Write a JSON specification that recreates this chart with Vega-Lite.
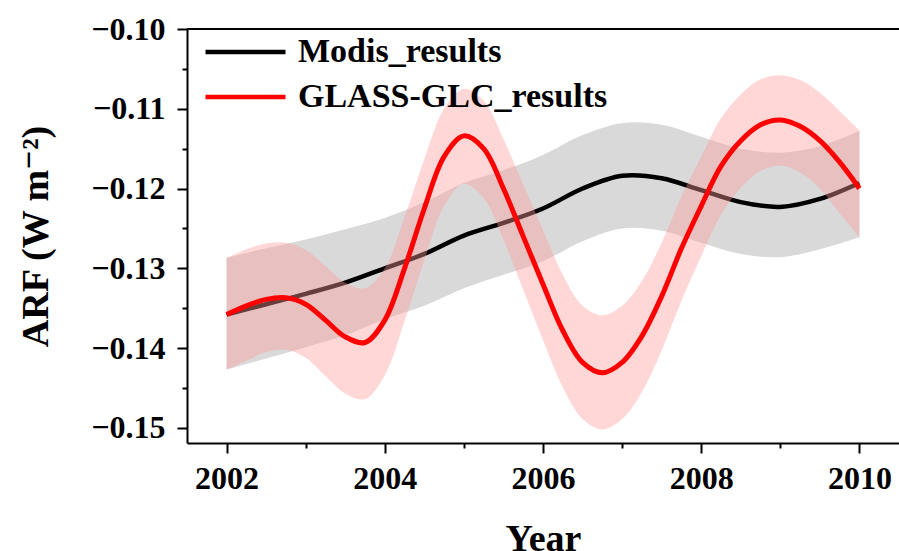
{
  "$schema": "https://vega.github.io/schema/vega-lite/v6.json",
  "autosize": "none",
  "width": 712,
  "height": 414,
  "padding": {"left": 187, "top": 29, "right": 0, "bottom": 108},
  "background": "white",
  "config": {
    "view": {"stroke": null},
    "axis": {
      "domainColor": "black", "domainWidth": 2,
      "tickColor": "black", "tickWidth": 2,
      "labelFont": "Liberation Serif, Times New Roman, DejaVu Serif, serif", "labelFontWeight": "bold", "labelFontSize": 32, "labelColor": "black",
      "titleFont": "Liberation Serif, Times New Roman, DejaVu Serif, serif", "titleFontWeight": "bold", "titleFontSize": 38, "titleColor": "black",
      "grid": false, "labelOverlap": false, "labelFlush": false
    },
    "legend": {
      "labelFont": "Liberation Serif, Times New Roman, DejaVu Serif, serif", "labelFontWeight": "bold", "labelFontSize": 34, "labelColor": "black", "labelLimit": 0
    }
  },
  "datasets": {
    "curves": [
      {"series": "Modis_results", "year": 2002.0, "value": -0.1358, "upper": -0.1287, "lower": -0.1427},
      {"series": "Modis_results", "year": 2002.5, "value": -0.1345, "upper": -0.1275, "lower": -0.1413},
      {"series": "Modis_results", "year": 2003.0, "value": -0.1332, "upper": -0.1264, "lower": -0.1399},
      {"series": "Modis_results", "year": 2003.5, "value": -0.1318, "upper": -0.1251, "lower": -0.1384},
      {"series": "Modis_results", "year": 2004.0, "value": -0.1300, "upper": -0.1237, "lower": -0.1364},
      {"series": "Modis_results", "year": 2004.5, "value": -0.1282, "upper": -0.1217, "lower": -0.1347},
      {"series": "Modis_results", "year": 2005.0, "value": -0.1259, "upper": -0.1193, "lower": -0.1325},
      {"series": "Modis_results", "year": 2005.5, "value": -0.1243, "upper": -0.1177, "lower": -0.1308},
      {"series": "Modis_results", "year": 2006.0, "value": -0.1225, "upper": -0.1158, "lower": -0.1291},
      {"series": "Modis_results", "year": 2006.5, "value": -0.1200, "upper": -0.1133, "lower": -0.1266},
      {"series": "Modis_results", "year": 2007.0, "value": -0.1184, "upper": -0.1118, "lower": -0.1250},
      {"series": "Modis_results", "year": 2007.5, "value": -0.1187, "upper": -0.1120, "lower": -0.1253},
      {"series": "Modis_results", "year": 2008.0, "value": -0.1202, "upper": -0.1135, "lower": -0.1268},
      {"series": "Modis_results", "year": 2008.5, "value": -0.1217, "upper": -0.1150, "lower": -0.1282},
      {"series": "Modis_results", "year": 2009.0, "value": -0.1223, "upper": -0.1155, "lower": -0.1286},
      {"series": "Modis_results", "year": 2009.5, "value": -0.1213, "upper": -0.1147, "lower": -0.1276},
      {"series": "Modis_results", "year": 2010.0, "value": -0.1193, "upper": -0.1128, "lower": -0.1261},
      {"series": "GLASS-GLC_results", "year": 2002.0, "value": -0.1358, "upper": -0.1287, "lower": -0.1427},
      {"series": "GLASS-GLC_results", "year": 2002.25, "value": -0.1347, "upper": -0.1276, "lower": -0.1416},
      {"series": "GLASS-GLC_results", "year": 2002.5, "value": -0.1339, "upper": -0.1269, "lower": -0.1405},
      {"series": "GLASS-GLC_results", "year": 2002.75, "value": -0.1337, "upper": -0.1268, "lower": -0.1402},
      {"series": "GLASS-GLC_results", "year": 2003.0, "value": -0.1345, "upper": -0.1277, "lower": -0.1412},
      {"series": "GLASS-GLC_results", "year": 2003.25, "value": -0.1365, "upper": -0.1297, "lower": -0.1435},
      {"series": "GLASS-GLC_results", "year": 2003.5, "value": -0.1386, "upper": -0.1318, "lower": -0.1457},
      {"series": "GLASS-GLC_results", "year": 2003.75, "value": -0.1393, "upper": -0.1325, "lower": -0.1464},
      {"series": "GLASS-GLC_results", "year": 2004.0, "value": -0.1365, "upper": -0.1300, "lower": -0.1434},
      {"series": "GLASS-GLC_results", "year": 2004.25, "value": -0.1300, "upper": -0.1236, "lower": -0.1366},
      {"series": "GLASS-GLC_results", "year": 2004.5, "value": -0.1225, "upper": -0.1163, "lower": -0.1290},
      {"series": "GLASS-GLC_results", "year": 2004.75, "value": -0.1160, "upper": -0.1100, "lower": -0.1222},
      {"series": "GLASS-GLC_results", "year": 2005.0, "value": -0.1134, "upper": -0.1075, "lower": -0.1194},
      {"series": "GLASS-GLC_results", "year": 2005.25, "value": -0.1150, "upper": -0.1090, "lower": -0.1212},
      {"series": "GLASS-GLC_results", "year": 2005.5, "value": -0.1200, "upper": -0.1138, "lower": -0.1264},
      {"series": "GLASS-GLC_results", "year": 2005.75, "value": -0.1260, "upper": -0.1195, "lower": -0.1327},
      {"series": "GLASS-GLC_results", "year": 2006.0, "value": -0.1320, "upper": -0.1252, "lower": -0.1390},
      {"series": "GLASS-GLC_results", "year": 2006.25, "value": -0.1378, "upper": -0.1308, "lower": -0.1449},
      {"series": "GLASS-GLC_results", "year": 2006.5, "value": -0.1418, "upper": -0.1347, "lower": -0.1489},
      {"series": "GLASS-GLC_results", "year": 2006.75, "value": -0.1431, "upper": -0.1359, "lower": -0.1502},
      {"series": "GLASS-GLC_results", "year": 2007.0, "value": -0.1418, "upper": -0.1347, "lower": -0.1489},
      {"series": "GLASS-GLC_results", "year": 2007.25, "value": -0.1385, "upper": -0.1316, "lower": -0.1455},
      {"series": "GLASS-GLC_results", "year": 2007.5, "value": -0.1335, "upper": -0.1268, "lower": -0.1403},
      {"series": "GLASS-GLC_results", "year": 2007.75, "value": -0.1275, "upper": -0.1210, "lower": -0.1341},
      {"series": "GLASS-GLC_results", "year": 2008.0, "value": -0.1222, "upper": -0.1160, "lower": -0.1285},
      {"series": "GLASS-GLC_results", "year": 2008.25, "value": -0.1172, "upper": -0.1112, "lower": -0.1233},
      {"series": "GLASS-GLC_results", "year": 2008.5, "value": -0.1140, "upper": -0.1082, "lower": -0.1199},
      {"series": "GLASS-GLC_results", "year": 2008.75, "value": -0.1120, "upper": -0.1063, "lower": -0.1178},
      {"series": "GLASS-GLC_results", "year": 2009.0, "value": -0.1114, "upper": -0.1058, "lower": -0.1171},
      {"series": "GLASS-GLC_results", "year": 2009.25, "value": -0.1122, "upper": -0.1064, "lower": -0.1180},
      {"series": "GLASS-GLC_results", "year": 2009.5, "value": -0.1140, "upper": -0.1080, "lower": -0.1200},
      {"series": "GLASS-GLC_results", "year": 2009.75, "value": -0.1167, "upper": -0.1103, "lower": -0.1231},
      {"series": "GLASS-GLC_results", "year": 2010.0, "value": -0.1200, "upper": -0.1127, "lower": -0.1261}
    ],
    "topline": [{"y": -0.10}]
  },
  "layer": [
    {
      "data": {"name": "curves"},
      "transform": [{"filter": "datum.series == 'Modis_results'"}],
      "mark": {"type": "area", "interpolate": "catmull-rom", "color": "#d9d9d9", "opacity": 1},
      "encoding": {
        "x": {
          "field": "year", "type": "quantitative",
          "scale": {"domain": [2001.5, 2010.5], "nice": false, "zero": false},
          "axis": {
            "values": [2002, 2003, 2004, 2005, 2006, 2007, 2008, 2009, 2010],
            "labelExpr": "datum.value % 2 == 0 ? '' + datum.value : ''",
            "tickSize": {"condition": {"test": "datum.value % 2 == 0", "value": 10}, "value": 5},
            "labelPadding": 10,
            "title": "Year",
            "titleY": 107,
            "titleBaseline": "alphabetic"
          }
        },
        "y": {
          "field": "lower", "type": "quantitative",
          "scale": {"domain": [-0.1519, -0.1], "nice": false, "zero": false},
          "axis": {
            "values": [-0.15, -0.145, -0.14, -0.135, -0.13, -0.125, -0.12, -0.115, -0.11, -0.105, -0.1],
            "labelExpr": "abs(round(datum.value * 1000)) % 10 == 0 ? format(datum.value, '.2f') : ''",
            "tickSize": {"condition": {"test": "abs(round(datum.value * 1000)) % 10 == 0", "value": 10}, "value": 5},
            "labelPadding": 12,
            "title": "ARF (W m⁻²)",
            "titleX": -140,
            "titleY": 207,
            "titleAngle": 270,
            "titleAlign": "center",
            "titleBaseline": "alphabetic"
          }
        },
        "y2": {"field": "upper"}
      }
    },
    {
      "data": {"name": "curves"},
      "transform": [{"filter": "datum.series == 'Modis_results'"}],
      "mark": {"type": "line", "interpolate": "catmull-rom", "strokeWidth": 4.5},
      "encoding": {
        "x": {"field": "year", "type": "quantitative"},
        "y": {"field": "value", "type": "quantitative"},
        "color": {
          "field": "series", "type": "nominal",
          "scale": {"domain": ["Modis_results", "GLASS-GLC_results"], "range": ["#000000", "#ff0000"]},
          "sort": ["Modis_results", "GLASS-GLC_results"],
          "legend": {
            "orient": "none", "legendX": 16, "legendY": 3, "padding": 0,
            "title": null, "symbolType": "stroke", "symbolSize": 6400, "symbolStrokeWidth": 4.5,
            "clipHeight": 40, "rowPadding": 5, "labelOffset": 10, "labelLimit": 0
          }
        }
      }
    },
    {
      "data": {"name": "curves"},
      "transform": [{"filter": "datum.series == 'GLASS-GLC_results'"}],
      "mark": {"type": "area", "interpolate": "catmull-rom", "color": "#ff9a9a", "opacity": 0.4},
      "encoding": {
        "x": {"field": "year", "type": "quantitative"},
        "y": {"field": "lower", "type": "quantitative"},
        "y2": {"field": "upper"}
      }
    },
    {
      "data": {"name": "curves"},
      "transform": [{"filter": "datum.series == 'GLASS-GLC_results'"}],
      "mark": {"type": "line", "interpolate": "catmull-rom", "strokeWidth": 5},
      "encoding": {
        "x": {"field": "year", "type": "quantitative"},
        "y": {"field": "value", "type": "quantitative"},
        "color": {"field": "series", "type": "nominal"}
      }
    },
    {
      "data": {"name": "topline"},
      "mark": {"type": "rule", "color": "black", "strokeWidth": 2},
      "encoding": {"y": {"field": "y", "type": "quantitative"}}
    }
  ]
}
